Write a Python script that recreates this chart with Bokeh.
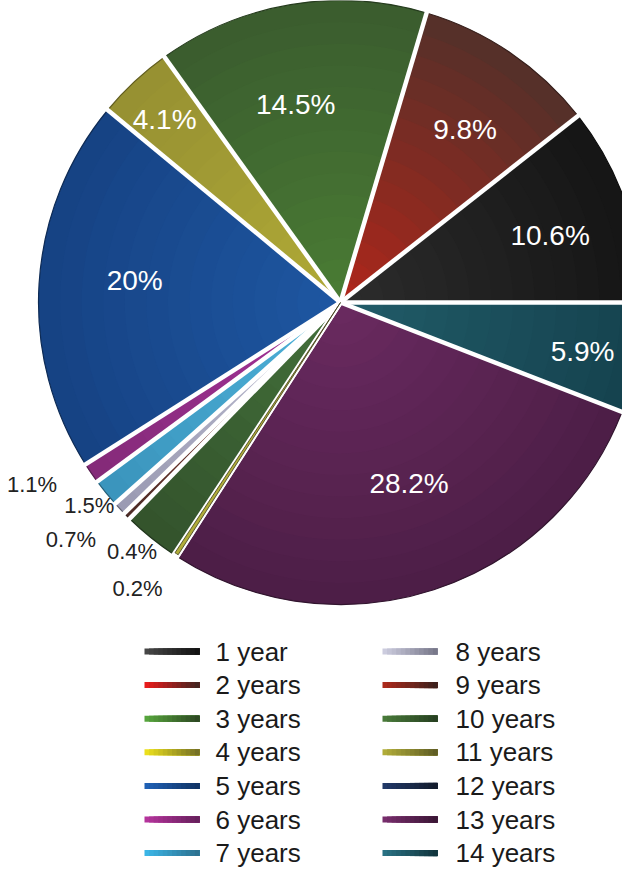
import numpy as np
from bokeh.plotting import figure
from bokeh.models import Range1d, ColumnDataSource
from bokeh.core.properties import value
from bokeh.embed import file_html
from bokeh.resources import INLINE

# ---------------- data ----------------
categories = ["1 year", "2 years", "3 years", "4 years", "5 years", "6 years", "7 years",
              "8 years", "9 years", "10 years", "11 years", "12 years", "13 years", "14 years"]
shares = [10.6, 9.8, 14.5, 4.1, 20.0, 1.1, 1.5, 0.7, 0.4, 3.0, 0.2, 0.0, 28.2, 5.9]
label_text = ["10.6%", "9.8%", "14.5%", "4.1%", "20%", "1.1%", "1.5%", "0.7%", "0.4%", "",
              "0.2%", "", "28.2%", "5.9%"]

# ---------------- style ----------------
color_in = ["#2c2c2c", "#b0261a", "#4a7c34", "#b0aa36", "#1e57a2", "#a6329a", "#4eb2da",
            "#c0c0d4", "#9a3424", "#43703a", "#b0ac3a", "#27395e", "#6a2a60", "#215c69"]
color_out = ["#151515", "#53302a", "#3a5c2e", "#969032", "#164283", "#842a78", "#3a94bc",
             "#9a9ab2", "#4c2c26", "#33532c", "#7a7830", "#182238", "#4c1e46", "#15424e"]
legend_left = ["#484848", "#ee1c1c", "#58a83e", "#f0e41c", "#2062b8", "#b8349e", "#3cb8ea",
               "#d0d0e2", "#b02a1c", "#4a7c3a", "#b4b03a", "#223a6a", "#7a2e6e", "#2a7486"]
inside = [True, True, True, True, True, False, False, False, False, False, False, False, True, True]
label_r = [220, 213, 203, 254, 207, 358, 323, 359, 325, 0, 351, 0, 194, 247]
label_nudge = [-1.4, -1.6, 3.2, 0.8, -2.5, -3.9, -0.1, -1.7, 5.1, 0, -2.2, 0, 2.7, -0.8]

CX, CY, R = 348.0, -310.0, 302.0
N_RINGS = 14
FONT = "Liberation Sans"
SEP_W = 4.5


def rgb(h):
    h = h.lstrip("#")
    return np.array([int(h[i:i + 2], 16) for i in (0, 2, 4)], dtype=float)


def mix(a, b, t):
    c = rgb(a) * (1 - t) + rgb(b) * t
    return "#%02x%02x%02x" % tuple(int(round(v)) for v in c)


p = figure(width=622, height=870, x_range=Range1d(8, 630), y_range=Range1d(-878, -8),
           output_backend="svg", toolbar_location=None, min_border=0,
           x_axis_location=None, y_axis_location=None)
p.grid.visible = False
p.outline_line_color = None
p.background_fill_color = "white"
p.border_fill_color = "white"

total = float(sum(shares))
ang = np.cumsum([0.0] + [s / total * 2 * np.pi for s in shares])
starts, ends = ang[:-1], ang[1:]
drawn = [i for i in range(len(shares)) if shares[i] > 0]

# gradient fill: stacked wedges, largest first
xs, ys, rs, sa, ea, cols = [], [], [], [], [], []
for k in range(N_RINGS - 1, -1, -1):
    rr = R * (k + 1) / N_RINGS
    t = (k + 0.5) / N_RINGS
    for i in drawn:
        xs.append(CX); ys.append(CY); rs.append(rr)
        sa.append(starts[i]); ea.append(ends[i])
        cols.append(mix(color_in[i], color_out[i], t))
src = ColumnDataSource(dict(x=xs, y=ys, r=rs, s=sa, e=ea, c=cols))
p.wedge(x="x", y="y", radius="r", start_angle="s", end_angle="e", fill_color="c",
        line_color=None, source=src)

# thin dark rim
p.wedge(x=[CX] * len(drawn), y=[CY] * len(drawn), radius=R,
        start_angle=[starts[i] for i in drawn], end_angle=[ends[i] for i in drawn],
        fill_color=None, line_color=[mix(color_out[i], "#000000", 0.35) for i in drawn],
        line_width=1.2)

# white separators
bounds = starts
p.segment(x0=[CX] * len(bounds), y0=[CY] * len(bounds),
          x1=[CX + (R + 8) * np.cos(a) for a in bounds],
          y1=[CY + (R + 8) * np.sin(a) for a in bounds],
          line_color="white", line_width=SEP_W)

# slivers narrower than the separators are redrawn on top so they stay visible
thin = [i for i in drawn if (ends[i] - starts[i]) * R < SEP_W]
if thin:
    p.wedge(x=[CX] * len(thin), y=[CY] * len(thin), radius=R - 2,
            start_angle=[starts[i] for i in thin], end_angle=[ends[i] for i in thin],
            fill_color=[color_in[i] for i in thin],
            line_color=[mix(color_out[i], "#000000", 0.5) for i in thin], line_width=0.8)

# percentage labels
lx, ly, lt, lc, ls = [], [], [], [], []
for i in range(len(shares)):
    if not label_text[i]:
        continue
    mid = (starts[i] + ends[i]) / 2 + np.radians(label_nudge[i])
    lx.append(CX + label_r[i] * np.cos(mid))
    ly.append(CY + label_r[i] * np.sin(mid))
    lt.append(label_text[i])
    lc.append("white" if inside[i] else "#222222")
    ls.append("28px" if inside[i] else "22px")
p.text(x=lx, y=ly, text=lt, text_color=lc, text_font_size=ls, text_font=value(FONT),
       text_align="center", text_baseline="middle")

# legend (gradient swatches: each piece runs to the swatch end, later pieces on top)
ROW0, ROW_STEP = -659.0, -33.6
SW_X = [152.0, 390.0]
SW_W, SW_H = 55.0, 6.0
TXT_X = [223.0, 463.0]
NSEG = 12
ql, qr, qt, qb, qc = [], [], [], [], []
tx, ty, tt = [], [], []
for s in range(NSEG):
    for i in range(len(categories)):
        col, row = divmod(i, 7)
        yc = ROW0 + ROW_STEP * row
        dark = mix(color_out[i], "#000000", 0.25)
        ql.append(SW_X[col] + SW_W * s / NSEG)
        qr.append(SW_X[col] + SW_W)
        qt.append(yc + SW_H / 2)
        qb.append(yc - SW_H / 2)
        qc.append(mix(legend_left[i], dark, (s + 0.5) / NSEG))
for i, name in enumerate(categories):
    col, row = divmod(i, 7)
    tx.append(TXT_X[col]); ty.append(ROW0 + ROW_STEP * row); tt.append(name)
p.quad(left=ql, right=qr, top=qt, bottom=qb, fill_color=qc, line_color=None)
p.text(x=tx, y=ty, text=tt, text_color="#1a1a1a", text_font_size="26px",
       text_font=value(FONT), text_align="left", text_baseline="middle")

open("out.html", "w").write(file_html(p, INLINE))
